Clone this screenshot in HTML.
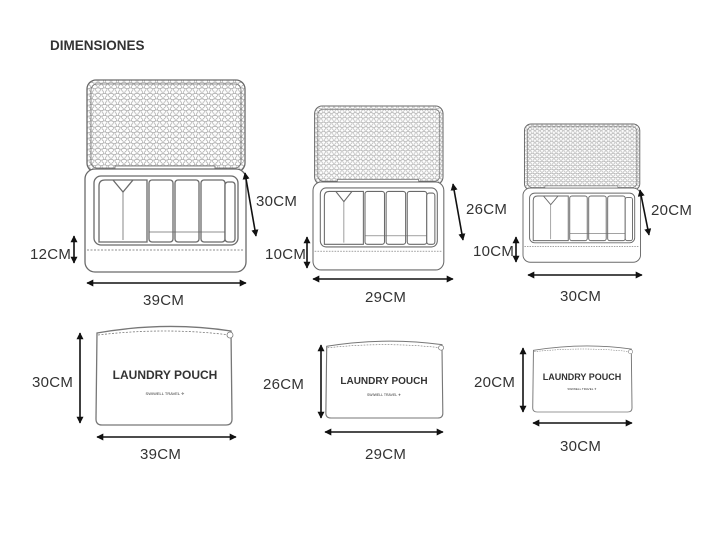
<!DOCTYPE html>
<html><head><meta charset="utf-8"><style>
html,body{margin:0;padding:0;background:#fff;}
svg{display:block;}
text{font-family:"Liberation Sans",sans-serif;fill:#333;}
</style></head><body>
<svg width="720" height="540" viewBox="0 0 720 540" xmlns="http://www.w3.org/2000/svg">
<defs>
<pattern id="mesh" width="6.5" height="5.5" patternUnits="userSpaceOnUse">
<rect width="6.5" height="5.5" fill="#fff"/>
<ellipse cx="3.25" cy="1.4" rx="2.5" ry="1.7" fill="none" stroke="#aaa" stroke-width="0.7"/>
<ellipse cx="0" cy="4.1" rx="2.5" ry="1.7" fill="none" stroke="#aaa" stroke-width="0.7"/>
<ellipse cx="6.5" cy="4.1" rx="2.5" ry="1.7" fill="none" stroke="#aaa" stroke-width="0.7"/>
</pattern>
<marker id="ah" viewBox="0 0 10 10" refX="9" refY="5" markerWidth="7" markerHeight="7" orient="auto-start-reverse" markerUnits="userSpaceOnUse">
<path d="M0,0 L10,5 L0,10 z" fill="#111"/>
</marker>
<g id="org" fill="none" stroke="#6a6a6a" stroke-width="1.3">
<rect x="2" y="0" width="158" height="92" rx="9" fill="url(#mesh)"/>
<rect x="6" y="4" width="150" height="84" rx="6" stroke-width="0.8"/>
<rect x="30" y="86" width="100" height="10" fill="#fff" stroke-width="0.8"/>
<rect x="0" y="89" width="161" height="103" rx="10" fill="#fff"/>
<rect x="9" y="96" width="144" height="69" rx="7" fill="#fff"/>
<line x1="2" y1="170" x2="159" y2="170" stroke-dasharray="2 1.5" stroke-width="0.8"/>
<path d="M14,106 Q14,100 20,100 L62,100 L62,162 L14,162 Z" fill="#fff"/>
<path d="M28,100 L38,112 L48,100" />
<path d="M38,112 L38,160" stroke-width="0.8"/>
<rect x="64" y="100" width="24" height="62" rx="3" fill="#fff"/>
<rect x="90" y="100" width="24" height="62" rx="3" fill="#fff"/>
<rect x="116" y="100" width="24" height="62" rx="3" fill="#fff"/>
<line x1="64" y1="152" x2="150" y2="152" stroke-width="0.8"/>
<rect x="140" y="102" width="10" height="60" rx="3" fill="#fff"/>
</g>
<g id="pouch" fill="none" stroke="#777" stroke-width="1.3">
<path d="M2,8 Q70,-4 136,6 L137,94 Q137,100 131,100 L7,100 Q1,100 1,94 Z" fill="#fff"/>
<path d="M3,10 Q70,2 135,10" stroke-dasharray="2 1.5" stroke-width="0.8"/>
<circle cx="135" cy="10" r="3" fill="#fff" stroke-width="0.8"/>
</g>
</defs>

<text x="50" y="50" font-size="13.5" font-weight="bold" fill="#222">DIMENSIONES</text>

<use href="#org" transform="translate(85,80)"/>
<use href="#org" transform="translate(313,106) scale(0.8125,0.854)"/>
<use href="#org" transform="translate(523,124) scale(0.73,0.72)"/>

<g stroke="#111" stroke-width="1.6" marker-start="url(#ah)" marker-end="url(#ah)">
<line x1="245" y1="173" x2="256" y2="236"/>
<line x1="74" y1="236" x2="74" y2="263"/>
<line x1="87" y1="283" x2="246" y2="283"/>
<line x1="453" y1="184" x2="463" y2="240"/>
<line x1="307" y1="237" x2="307" y2="268"/>
<line x1="313" y1="279" x2="453" y2="279"/>
<line x1="640" y1="190" x2="649" y2="235"/>
<line x1="516" y1="237" x2="516" y2="262"/>
<line x1="528" y1="275" x2="642" y2="275"/>
<line x1="80" y1="333" x2="80" y2="423"/>
<line x1="97" y1="437" x2="236" y2="437"/>
<line x1="321" y1="345" x2="321" y2="418"/>
<line x1="325" y1="432" x2="443" y2="432"/>
<line x1="523" y1="348" x2="523" y2="412"/>
<line x1="533" y1="423" x2="632" y2="423"/>
</g>

<g font-size="15" letter-spacing="0.3">
<text x="256" y="206">30CM</text>
<text x="30" y="259">12CM</text>
<text x="143" y="305">39CM</text>
<text x="466" y="214">26CM</text>
<text x="265" y="259">10CM</text>
<text x="365" y="302">29CM</text>
<text x="651" y="215">20CM</text>
<text x="473" y="256">10CM</text>
<text x="560" y="301">30CM</text>
<text x="32" y="387">30CM</text>
<text x="140" y="459">39CM</text>
<text x="263" y="389">26CM</text>
<text x="365" y="459">29CM</text>
<text x="474" y="387">20CM</text>
<text x="560" y="451">30CM</text>
</g>

<use href="#pouch" transform="translate(95,325)"/>
<use href="#pouch" transform="translate(325,340) scale(0.86,0.78)"/>
<use href="#pouch" transform="translate(532,345) scale(0.73,0.67)"/>

<text x="165" y="379" font-size="12" font-weight="bold" fill="#666" text-anchor="middle">LAUNDRY POUCH</text>
<text x="165" y="395" font-size="4" fill="#666" text-anchor="middle">SWIWELL  TRAVEL ✈</text>
<text x="384" y="384" font-size="10" font-weight="bold" fill="#666" text-anchor="middle">LAUNDRY POUCH</text>
<text x="384" y="396" font-size="3.5" fill="#666" text-anchor="middle">SWIWELL  TRAVEL ✈</text>
<text x="582" y="380" font-size="9" font-weight="bold" fill="#666" text-anchor="middle">LAUNDRY POUCH</text>
<text x="582" y="390" font-size="3" fill="#666" text-anchor="middle">SWIWELL  TRAVEL ✈</text>
</svg>
</body></html>
